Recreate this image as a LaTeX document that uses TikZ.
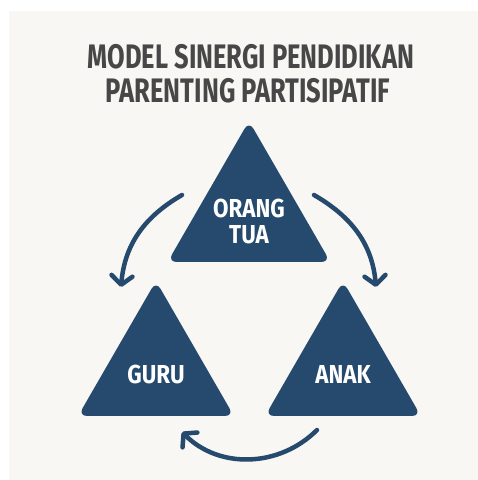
\documentclass[tikz,border=0pt]{standalone}
\usepackage{fontspec}
\usetikzlibrary{shapes.geometric,arrows.meta}
\setmainfont{Fira Sans}
\newfontfamily\condfont{Fira Sans}[FakeStretch=0.75]
\newfontfamily\labelfont{Fira Sans}[FakeStretch=0.86]
\definecolor{navy}{HTML}{254A6D}
\definecolor{paper}{HTML}{F8F7F3}
\definecolor{ink}{HTML}{474747}

\begin{document}
\begin{tikzpicture}[x=1pt,y=1pt,title/.style={anchor=base,text=ink,font=\condfont\bfseries\fontsize{34}{34}\selectfont},tri/.style={regular polygon,regular polygon sides=3,fill=navy,rounded corners=9pt,inner sep=0pt,outer sep=0pt},lbl/.style={text=white,align=center,font=\labelfont\bfseries\fontsize{26}{26}\selectfont},cyc/.style={draw=navy,line width=4.5pt,line cap=round,-{Straight Barb[length=9pt,width=21pt,round]}}]
\useasboundingbox (0,0) rectangle (478,480);
\fill[white] (0,0) rectangle (478,480);
\fill[paper] (9,0) rectangle (478,469);
% title
\node[title] (title1) at (251,411) {MODEL SINERGI PENDIDIKAN};
\node[title] (title2) at (248,377) {PARENTING PARTISIPATIF};
% the three parties
\node[tri,minimum size=188pt,label={[lbl,yshift=-6pt]center:ORANG\\TUA}] (ortu) at (249,265) {};
\node[tri,minimum size=180pt,label={[lbl,yshift=-3pt]center:GURU}] (guru) at (156,109) {};
\node[tri,minimum size=180pt,label={[lbl,yshift=-3pt]center:ANAK}] (anak) at (343,109) {};
% cycle
\coordinate (l0) at (182,285);
\coordinate (l1) at (121,193);
\coordinate (r0) at (314,285);
\coordinate (r1) at (376,193);
\coordinate (b0) at (317,50);
\coordinate (b1) at (182,48);
\draw[cyc] (l0) to[out=210,in=85] (l1);
\draw[cyc] (r0) to[out=-30,in=95] (r1);
\draw[cyc] (b0) to[out=225,in=-45] (b1);
\end{tikzpicture}
\end{document}
